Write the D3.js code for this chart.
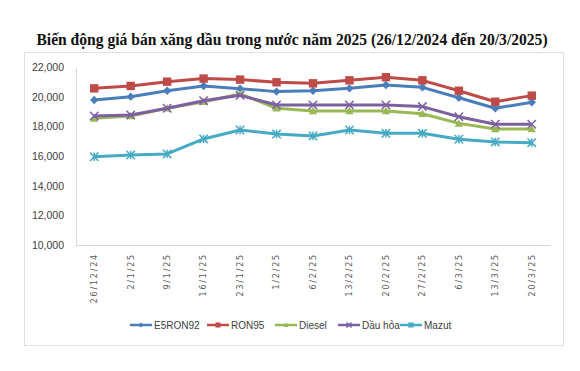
<!DOCTYPE html>
<html>
<head>
<meta charset="utf-8">
<script src="https://cdn.jsdelivr.net/npm/d3@7"></script>
<style>
  body { margin: 0; background: #fff; }
</style>
</head>
<body>
<script>
// dates on the x axis
const dates = ["26/12/24", "2/1/25", "9/1/25", "16/1/25", "23/1/25", "1/2/25", "6/2/25",
  "13/2/25", "20/2/25", "27/2/25", "6/3/25", "13/3/25", "20/3/25"];

// prices (dong/litre)
const e5ron92 = [19780, 20000, 20400, 20720, 20540, 20340, 20400, 20560, 20790, 20630, 19930, 19220, 19620];
const ron95 = [20560, 20720, 21010, 21220, 21150, 20970, 20900, 21100, 21310, 21100, 20400, 19660, 20070];
const diesel = [18540, 18700, 19220, 19660, 20180, 19220, 19040, 19040, 19040, 18850, 18200, 17820, 17820];
const dauHoa = [18700, 18770, 19220, 19730, 20090, 19440, 19440, 19440, 19440, 19330, 18650, 18140, 18140];
const mazut = [15950, 16070, 16140, 17150, 17750, 17480, 17350, 17750, 17530, 17530, 17130, 16950, 16900];

const yTicks = [10000, 12000, 14000, 16000, 18000, 20000, 22000];

const series = [
  { name: "E5RON92", values: e5ron92, color: "#4a7ebb", marker: "diamond" },
  { name: "RON95", values: ron95, color: "#be4b48", marker: "square" },
  { name: "Diesel", values: diesel, color: "#98b954", marker: "triangle" },
  { name: "Dầu hỏa", values: dauHoa, color: "#7d60a0", marker: "x" },
  { name: "Mazut", values: mazut, color: "#46aac5", marker: "star" }
];

const W = 580, H = 371;
const plotL = 76, plotR = 550, plotT = 67, plotB = 245;

const svg = d3.select("body").append("svg")
  .attr("width", W)
  .attr("height", H);

svg.append("rect").attr("width", W).attr("height", H).attr("fill", "#fff");

// chart frame
svg.append("rect")
  .attr("x", 24.5).attr("y", 52.5)
  .attr("width", 539).attr("height", 293)
  .attr("fill", "none").attr("stroke", "#e0e0e0");

// title, a little stretched up like the original condensed serif
svg.append("text")
  .attr("transform", "translate(292,45) scale(1,1.13)")
  .attr("text-anchor", "middle")
  .attr("font-family", "Liberation Serif, serif")
  .attr("font-weight", "bold")
  .attr("font-size", 15.6)
  .attr("fill", "#111")
  .text("Biến động giá bán xăng dầu trong nước năm 2025 (26/12/2024 đến 20/3/2025)");

const x = d3.scaleBand().domain(dates).range([plotL, plotR]);
const y = d3.scaleLinear().domain([10000, 22000]).range([plotB, plotT]);

// y axis labels
const yAxis = svg.append("g")
  .attr("transform", `translate(${plotL},0)`)
  .call(d3.axisLeft(y).tickValues(yTicks).tickSize(0).tickPadding(12)
    .tickFormat(d3.format(",")));
yAxis.select(".domain").attr("stroke", "#d9d9d9");
yAxis.selectAll("text")
  .attr("font-family", "Liberation Sans, Arial, sans-serif")
  .attr("font-size", 10.5)
  .attr("fill", "#404040");

// x axis
const xAxis = svg.append("g")
  .attr("transform", `translate(0,${plotB})`)
  .call(d3.axisBottom(x).tickSize(0).tickPadding(0));
xAxis.select(".domain").attr("stroke", "#d9d9d9");
xAxis.selectAll("text")
  .attr("font-family", "DejaVu Sans, sans-serif")
  .attr("font-size", 8)
  .attr("letter-spacing", 1.8)
  .attr("fill", "#595959")
  .attr("text-anchor", "end")
  .attr("dy", "0.35em")
  .attr("transform", "translate(0,8) rotate(-90)");

const line = d3.line()
  .x((d, i) => x(dates[i]) + x.bandwidth() / 2)
  .y(d => y(d));

function drawMarker(g, type, color, size) {
  const s = size;
  if (type === "diamond") {
    g.append("path").attr("d", `M0,${-s}L${s},0L0,${s}L${-s},0Z`).attr("fill", color);
  } else if (type === "square") {
    g.append("rect").attr("x", -s).attr("y", -s).attr("width", 2 * s).attr("height", 2 * s).attr("fill", color);
  } else if (type === "triangle") {
    g.append("path").attr("d", `M0,${-s}L${s},${s * 0.8}L${-s},${s * 0.8}Z`).attr("fill", color);
  } else if (type === "x") {
    g.append("path").attr("d", `M${-s},${-s}L${s},${s}M${-s},${s}L${s},${-s}`)
      .attr("stroke", color).attr("stroke-width", 1.5);
  } else {
    g.append("path").attr("d", `M${-s},${-s}L${s},${s}M${-s},${s}L${s},${-s}M0,${-s}L0,${s}`)
      .attr("stroke", color).attr("stroke-width", 1.5);
  }
}

series.forEach(s => {
  svg.append("path")
    .datum(s.values)
    .attr("d", line)
    .attr("fill", "none")
    .attr("stroke", s.color)
    .attr("stroke-width", 3)
    .attr("stroke-linejoin", "round");
  s.values.forEach((v, i) => {
    const g = svg.append("g")
      .attr("transform", `translate(${x(dates[i]) + x.bandwidth() / 2},${y(v)})`);
    drawMarker(g, s.marker, s.color, 4.2);
  });
});

// legend
const legendX = [130, 207, 275, 338, 400];
series.forEach((s, i) => {
  const g = svg.append("g").attr("transform", `translate(${legendX[i]},325)`);
  g.append("line").attr("x1", 0).attr("x2", 22).attr("stroke", s.color).attr("stroke-width", 2.5);
  const m = g.append("g").attr("transform", "translate(11,0)");
  drawMarker(m, s.marker, s.color, 2.5);
  g.append("text")
    .attr("x", 24).attr("dy", "0.35em")
    .attr("font-family", "Liberation Sans, Arial, sans-serif")
    .attr("font-size", 10)
    .attr("fill", "#404040")
    .text(s.name);
});
</script>
</body>
</html>
